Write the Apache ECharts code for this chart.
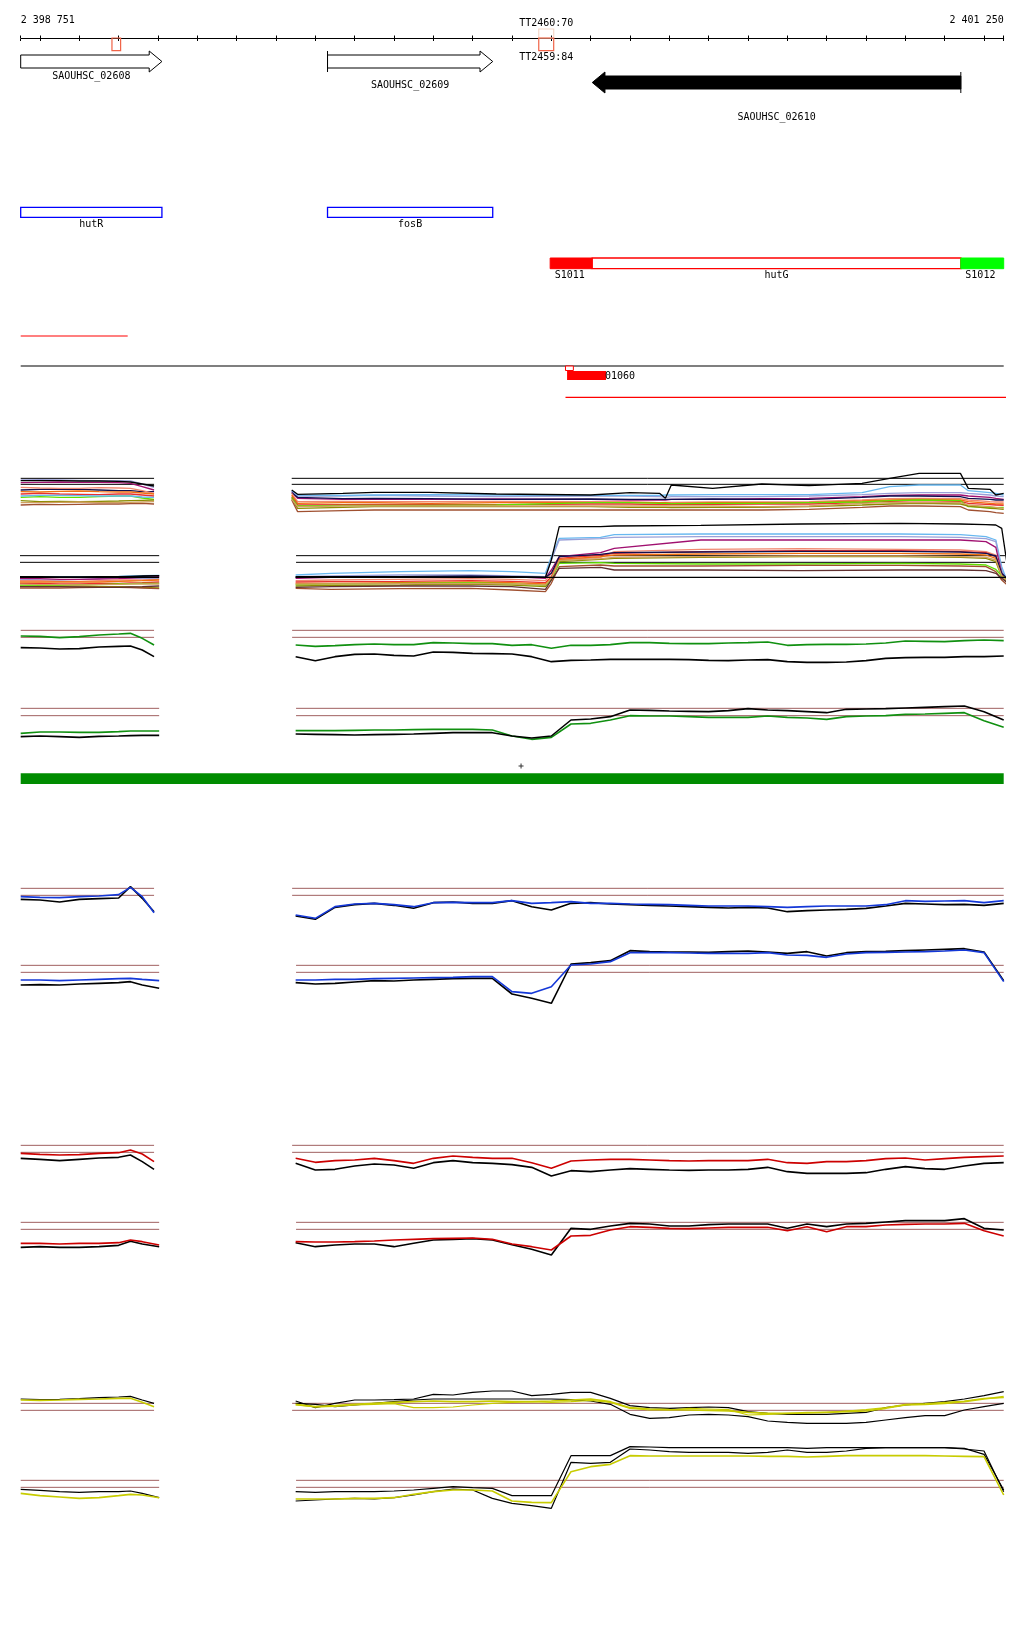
<!DOCTYPE html>
<html>
<head>
<meta charset="utf-8">
<script src="https://cdn.jsdelivr.net/npm/echarts@6/dist/echarts.min.js"></script>
<style>
  html, body { margin: 0; padding: 0; background: #fff; }
  #chart { width: 1024px; height: 1640px; }
</style>
</head>
<body>
<div id="chart"></div>
<script>
// view window (bp)
const X_MIN = 2398751;
const X_MAX = 2401250;
const TICKS = [2398751, 2398800, 2398900, 2399000, 2399100, 2399200, 2399300, 2399400, 2399500,
  2399600, 2399700, 2399800, 2399900, 2400000, 2400100, 2400200, 2400300, 2400400, 2400500,
  2400600, 2400700, 2400800, 2400900, 2401000, 2401100, 2401200, 2401250];

// genes
const GENE_NAMES = ['SAOUHSC_02608', 'SAOUHSC_02609', 'SAOUHSC_02610'];
const GENE_START = [2398751, 2399531, 2400204];
const GENE_END = [2399110, 2399951, 2401141];
const GENE_STRAND = ['+', '+', '-'];
const GENE_FILLED = [false, false, true];
const GENE_START_BAR = [false, true, true];

// terminators
const TERM_NAMES = ['', 'TT2460:70', 'TT2459:84'];
const TERM_START = [2398983, 2400068, 2400068];
const TERM_END = [2399005, 2400106, 2400106];
const TERM_SIDE = ['below', 'above', 'below'];

// annotated names
const OPERON_NAMES = ['hutR', 'fosB'];
const OPERON_START = [2398751, 2399531];
const OPERON_END = [2399110, 2399951];

// segments around hutG
const SEG_NAMES = ['S1011', 'hutG', 'S1012'];
const SEG_START = [2400097, 2400204, 2401141];
const SEG_END = [2400204, 2401141, 2401250];
const SEG_KIND = ['down', 'gene', 'up'];

// plain spans
const RED_SPAN_1 = [2398751, 2399023];
const BLACK_SPAN = [2398751, 2401250];
const RED_SPAN_2 = [2400136, 2401274];
const SMALL_BOX = [2400136, 2400156];
const SMALL_FILL = [2400140, 2400239];
const SMALL_LABEL = '01060';
const GREEN_SPAN = [2398751, 2401250];
const PLUS_POS = [2400023];

// line tracks: x positions
const LEFT_X_ODD = [2398751, 2398800, 2398850, 2398900, 2398950, 2399000, 2399030, 2399060, 2399090];
const LEFT_X_EVEN = [2398751, 2398800, 2398850, 2398900, 2398950, 2399000, 2399030, 2399060, 2399103];
const RIGHT_X = [2399450, 2399500, 2399550, 2399600, 2399650, 2399700, 2399750, 2399800, 2399850,
  2399900, 2399950, 2400000, 2400050, 2400100, 2400150, 2400200, 2400250, 2400300, 2400350,
  2400400, 2400450, 2400500, 2400550, 2400600, 2400650, 2400700, 2400750, 2400800, 2400850,
  2400900, 2400950, 2401000, 2401050, 2401100, 2401150, 2401200, 2401250];
const A_X_L = [2398751, 2398800, 2398850, 2398900, 2398950, 2399000, 2399030, 2399060, 2399090];
const A_X_R = [2399440, 2399455, 2399570, 2399650, 2399790, 2399960, 2400200, 2400300, 2400375, 2400390,
  2400405, 2400510, 2400635, 2400755, 2400890, 2400960, 2401035, 2401140, 2401160, 2401215, 2401230, 2401250];
const B_X_L = [2398730, 2398800, 2398850, 2398900, 2398950, 2399000, 2399030, 2399060, 2399103];
const B_X_R = [2399450, 2399540, 2399715, 2399895, 2400000, 2400085, 2400100, 2400120, 2400225, 2400260,
  2400480, 2400735, 2400985, 2401140, 2401205, 2401230, 2401245, 2401264];

// reference levels
const REF_A = [55, 73];
const REF_B = [287, 307];
const REF_C = [31, 52];
const REF_D = [265, 287];
const REF_E = [55, 76];
const REF_F = [286, 307];
const REF_G = [46, 67];
const REF_H = [277, 298];
const REF_I = [85, 106];
const REF_J = [316, 337];

// track A (many samples)
const A_COLORS = ['#9aa0d8', '#a01070', '#101050', '#f08870', '#f07010', '#e83030', '#60e000', '#8c8c00', '#a05030', '#68b8f0', '#d0a060', '#000000'];
const A_LEFT = [
  [60, 59, 60, 61, 62, 62, 63, 72, 82],
  [68, 67, 66, 67, 67, 68, 70, 80, 90],
  [90, 88, 87, 88, 90, 92, 92, 95, 95],
  [82, 84, 85, 85, 83, 84, 85, 92, 100],
  [95, 96, 94, 93, 95, 96, 96, 99, 102],
  [102, 100, 102, 103, 104, 102, 102, 105, 108],
  [112, 110, 112, 112, 110, 108, 108, 114, 118],
  [122, 125, 124, 125, 124, 123, 122, 121, 120],
  [135, 133, 134, 133, 132, 132, 131, 130, 132],
  [108, 106, 106, 107, 108, 108, 108, 111, 112],
  [128, 128, 127, 126, 128, 128, 127, 126, 125],
  [62, 62, 62, 63, 63, 64, 66, 72, 78]
];
const A_RIGHT = [
  [92, 108, 108, 106, 108, 110, 108, 108, 110, 112, 110, 110, 110, 108, 104, 100, 98, 98, 100, 105, 108, 110],
  [95, 115, 118, 118, 118, 117, 118, 120, 120, 120, 118, 118, 116, 115, 110, 106, 105, 105, 108, 112, 115, 118],
  [98, 112, 116, 115, 116, 118, 117, 118, 118, 118, 118, 117, 118, 118, 112, 108, 108, 110, 115, 118, 120, 120],
  [100, 125, 124, 125, 125, 124, 125, 126, 128, 127, 127, 126, 126, 125, 120, 116, 115, 116, 120, 125, 126, 126],
  [105, 130, 128, 128, 130, 128, 128, 127, 128, 128, 130, 128, 128, 128, 123, 120, 118, 120, 125, 130, 132, 132],
  [110, 135, 134, 133, 133, 134, 132, 132, 134, 134, 134, 133, 132, 132, 128, 124, 122, 124, 130, 134, 135, 136],
  [112, 138, 136, 136, 136, 135, 128, 128, 130, 130, 131, 130, 130, 128, 126, 122, 120, 122, 140, 142, 143, 142],
  [115, 145, 142, 140, 140, 140, 140, 142, 142, 142, 143, 142, 142, 140, 135, 132, 130, 132, 138, 145, 146, 148],
  [120, 155, 152, 150, 150, 150, 150, 150, 150, 150, 150, 150, 150, 148, 142, 138, 138, 140, 150, 155, 158, 160],
  [92, 105, 106, 105, 104, 105, 106, 106, 106, 105, 105, 104, 104, 104, 98, 80, 75, 75, 92, 98, 100, 105],
  [118, 140, 138, 138, 138, 138, 138, 138, 138, 138, 138, 138, 140, 138, 130, 128, 128, 128, 135, 140, 142, 145],
  [90, 103, 100, 97, 97, 102, 105, 98, 100, 115, 75, 85, 72, 77, 70, 55, 40, 40, 85, 88, 105, 100]
];

// track B (many samples)
const B_COLORS = ['#68b8f0', '#9aa0d8', '#a01070', '#f08870', '#e83030', '#f07010', '#101050', '#8c8c00', '#60e000', '#a05030', '#d0a060', '#603030', '#000000', '#000000'];
const B_LEFT = [
  [352, 350, 350, 350, 350, 349, 348, 347, 346],
  [358, 360, 360, 358, 356, 354, 354, 355, 356],
  [355, 356, 358, 358, 357, 356, 354, 352, 350],
  [362, 362, 364, 364, 362, 360, 360, 360, 358],
  [370, 370, 372, 372, 370, 370, 369, 368, 366],
  [366, 366, 366, 366, 366, 364, 363, 362, 360],
  [352, 352, 352, 352, 352, 351, 350, 349, 347],
  [378, 380, 378, 378, 380, 380, 381, 382, 384],
  [375, 376, 376, 374, 374, 372, 371, 370, 370],
  [384, 384, 384, 383, 382, 382, 383, 384, 386],
  [372, 374, 374, 375, 374, 373, 372, 372, 372],
  [380, 380, 380, 381, 382, 382, 381, 380, 378],
  [352, 352, 352, 352, 352, 352, 352, 352, 352],
  [350, 350, 351, 351, 350, 350, 349, 348, 347]
];
const B_RIGHT = [
  [345, 340, 335, 332, 335, 340, 290, 235, 232, 224, 222, 222, 222, 224, 230, 240, 320, 380],
  [350, 348, 345, 345, 348, 350, 300, 240, 236, 232, 230, 230, 230, 232, 236, 245, 330, 385],
  [355, 352, 350, 350, 350, 355, 330, 290, 278, 265, 240, 240, 240, 240, 245, 262, 340, 370],
  [362, 360, 358, 356, 358, 362, 340, 300, 292, 275, 268, 266, 268, 270, 275, 285, 340, 365],
  [366, 365, 364, 362, 364, 368, 350, 295, 285, 280, 275, 272, 272, 275, 278, 290, 345, 375],
  [370, 370, 368, 366, 368, 372, 355, 298, 290, 285, 282, 280, 280, 282, 285, 295, 350, 372],
  [352, 352, 350, 348, 350, 352, 340, 290, 283, 278, 276, 274, 274, 276, 280, 288, 340, 362],
  [378, 376, 375, 372, 375, 380, 360, 305, 298, 295, 292, 290, 290, 292, 295, 305, 350, 375],
  [374, 372, 370, 368, 372, 376, 358, 310, 308, 310, 312, 312, 310, 312, 315, 328, 348, 360],
  [385, 388, 386, 385, 390, 395, 370, 320, 315, 318, 318, 316, 316, 318, 320, 335, 360, 380],
  [372, 372, 371, 370, 372, 375, 356, 302, 296, 292, 290, 288, 288, 290, 292, 300, 348, 370],
  [382, 380, 378, 378, 380, 388, 360, 325, 322, 330, 330, 332, 330, 330, 332, 340, 355, 372],
  [352, 352, 352, 352, 352, 352, 352, 352, 352, 352, 352, 352, 352, 352, 352, 352, 352, 352],
  [350, 350, 350, 352, 350, 352, 300, 200, 200, 198, 196, 192, 190, 192, 194, 195, 205, 355]
];

// track C / D (green)
const C_GREEN_L = [48, 49, 53, 50, 45, 42, 40, 55, 75];
const C_BLACK_L = [83, 84, 87, 86, 81, 79, 78, 90, 110];
const C_GREEN_R = [75, 79, 77, 74, 72, 74, 74, 68, 69, 71, 71, 76, 74, 85, 76, 76, 74, 68, 68, 70, 71, 71, 69, 68, 66, 76, 74, 73, 73, 72, 69, 63, 64, 65, 62, 60, 62];
const C_BLACK_R = [110, 122, 110, 103, 102, 106, 108, 96, 97, 100, 101, 102, 110, 125, 121, 120, 118, 118, 118, 118, 119, 121, 122, 120, 119, 125, 127, 127, 126, 122, 115, 113, 112, 112, 110, 110, 108];
const D_GREEN_L = [340, 336, 336, 337, 337, 335, 333, 333, 333];
const D_BLACK_L = [350, 348, 350, 352, 349, 348, 347, 346, 346];
const D_GREEN_R = [332, 332, 332, 331, 330, 330, 329, 328, 328, 328, 330, 348, 358, 352, 312, 310, 300, 287, 288, 288, 290, 292, 292, 292, 288, 292, 294, 298, 290, 288, 287, 283, 282, 280, 278, 302, 322];
const D_BLACK_R = [342, 343, 344, 345, 344, 343, 342, 340, 338, 338, 338, 348, 354, 348, 300, 297, 290, 270, 271, 273, 274, 275, 272, 266, 270, 272, 275, 278, 268, 267, 266, 264, 262, 260, 258, 275, 300];

// track E / F (blue)
const E_BLUE_L = [80, 82, 83, 80, 78, 74, 52, 80, 128];
const E_BLACK_L = [88, 90, 96, 88, 86, 84, 50, 85, 125];
const E_BLUE_R = [135, 145, 110, 102, 100, 104, 110, 98, 97, 98, 98, 92, 100, 98, 95, 100, 100, 102, 103, 104, 106, 108, 108, 108, 110, 112, 110, 108, 108, 108, 104, 92, 94, 93, 92, 98, 92];
const E_BLACK_R = [138, 148, 112, 104, 100, 106, 115, 98, 96, 100, 100, 92, 110, 120, 100, 98, 102, 104, 106, 108, 110, 112, 114, 112, 114, 125, 122, 120, 118, 115, 108, 100, 102, 104, 103, 106, 100];
const F_BLUE_L = [330, 330, 332, 330, 328, 326, 325, 328, 332];
const F_BLACK_L = [345, 344, 345, 342, 340, 338, 335, 345, 355];
const F_BLUE_R = [330, 330, 328, 328, 326, 325, 324, 323, 322, 320, 320, 365, 370, 350, 285, 282, 275, 248, 248, 248, 249, 250, 250, 250, 248, 255, 256, 262, 252, 248, 247, 246, 245, 243, 240, 248, 335];
const F_BLACK_R = [338, 342, 340, 336, 332, 333, 330, 328, 326, 325, 325, 372, 385, 400, 282, 278, 272, 242, 245, 246, 246, 247, 245, 243, 246, 250, 245, 258, 248, 245, 244, 242, 240, 238, 236, 246, 332];

// track G / H (red)
const G_RED_L = [70, 73, 75, 74, 70, 68, 60, 72, 95];
const G_BLACK_L = [85, 88, 92, 88, 84, 82, 75, 95, 118];
const G_RED_R = [85, 97, 92, 90, 85, 92, 100, 85, 78, 82, 85, 85, 98, 115, 93, 90, 88, 88, 90, 92, 93, 92, 92, 92, 88, 98, 100, 95, 95, 92, 86, 84, 90, 86, 82, 80, 78];
const G_BLACK_R = [100, 120, 118, 108, 102, 105, 115, 98, 92, 98, 100, 104, 112, 138, 122, 125, 120, 116, 118, 120, 121, 120, 120, 118, 112, 125, 130, 130, 130, 128, 118, 110, 116, 118, 108, 100, 98];
const H_RED_L = [340, 340, 342, 340, 340, 338, 330, 335, 345];
const H_BLACK_L = [352, 350, 352, 352, 350, 346, 334, 342, 350];
const H_RED_R = [335, 336, 336, 335, 333, 330, 328, 326, 325, 324, 328, 342, 350, 360, 318, 316, 300, 290, 292, 295, 296, 294, 292, 292, 292, 302, 290, 305, 290, 290, 285, 283, 282, 282, 280, 302, 318];
const H_BLACK_R = [338, 350, 345, 342, 342, 350, 340, 330, 328, 326, 330, 344, 358, 375, 295, 298, 288, 280, 282, 288, 288, 284, 282, 282, 282, 295, 282, 290, 282, 280, 276, 272, 272, 272, 266, 295, 300];

// track I / J (yellow)
const I_YELLOW_L = [75, 76, 75, 73, 72, 70, 70, 82, 95];
const I_BLACK_L = [72, 74, 73, 71, 68, 66, 64, 75, 85];
const I_YELLOW_R = [88, 95, 92, 88, 85, 82, 80, 78, 80, 80, 78, 80, 80, 78, 75, 72, 80, 98, 102, 104, 105, 106, 108, 112, 115, 115, 114, 112, 110, 108, 100, 90, 88, 85, 80, 72, 65];
const I_YELLOW2_R = [90, 96, 94, 90, 88, 86, 98, 98, 96, 90, 85, 82, 80, 82, 80, 76, 82, 100, 105, 105, 100, 102, 104, 120, 118, 115, 112, 112, 108, 104, 98, 88, 86, 82, 78, 70, 68];
const I_BLACK_R = [78, 98, 85, 75, 75, 74, 72, 58, 60, 52, 48, 48, 62, 58, 52, 52, 70, 92, 98, 100, 98, 96, 98, 110, 115, 118, 118, 118, 115, 112, 98, 90, 85, 80, 72, 62, 50];
const I_BLACK2_R = [85, 88, 95, 90, 85, 80, 75, 72, 72, 72, 72, 72, 72, 72, 74, 78, 88, 118, 130, 128, 120, 118, 120, 125, 138, 142, 145, 145, 145, 142, 135, 128, 122, 122, 105, 95, 85];
const J_YELLOW_L = [355, 362, 366, 370, 368, 362, 358, 360, 368];
const J_BLACK_L = [343, 346, 350, 352, 350, 350, 348, 355, 368];
const J_YELLOW_R = [372, 372, 372, 370, 370, 368, 358, 350, 345, 345, 348, 378, 382, 383, 290, 275, 268, 242, 243, 243, 243, 243, 243, 243, 244, 244, 246, 244, 242, 242, 242, 242, 242, 243, 244, 245, 360];
const J_BLACK_R = [350, 352, 350, 350, 350, 348, 345, 340, 335, 338, 340, 362, 362, 362, 242, 242, 242, 215, 216, 218, 218, 218, 218, 218, 218, 218, 220, 218, 218, 218, 218, 218, 218, 218, 222, 228, 350];
const J_BLACK2_R = [378, 375, 372, 370, 372, 368, 360, 350, 342, 345, 370, 385, 392, 400, 262, 265, 262, 222, 225, 230, 232, 232, 232, 235, 232, 225, 232, 232, 228, 220, 218, 218, 218, 218, 220, 238, 345];

// ---------- layout ----------
const FONT = '10px "DejaVu Sans Mono", monospace';
const REF_COLOR = '#a06060';
const ROW = {
  gene: [61.5, 61.5, 82.5], geneLabel: [76, 85, 117],
  termAbove: [29, 38], termBelow: [38, 50.7], termLabelAbove: 23, termLabelBelow: 57,
  operon: [207.3, 217.3], operonLabel: 224.5,
  seg: [258, 268.7], segLabel: 275.5,
  redLine1: 336, blackLine: 366, redLine2: 397.3,
  smallBox: [366, 370.5], smallFill: [371, 380], smallLabel: 376
};
const SPAN_ODD = [[2398751, 2399090], [2399441, 2401250]];
const SPAN_EVEN = [[2398751, 2399103], [2399451, 2401250]];
const SPAN_A = [[2398751, 2399090], [2399440, 2401250]];
const SPAN_B = [[2398730, 2399103], [2399451, 2401264]];

const GRIDS = [
  { top: 38, bottom: 1601 },   // ruler
  { top: 0, height: 410 },     // annotations
  { top: 460, height: 150 },   // A, B
  { top: 620, height: 170 },   // C, D, green bar
  { top: 870, height: 150 },   // E, F
  { top: 1130, height: 150 },  // G, H
  { top: 1375, height: 150 }   // I, J
];
const Y_MAX = [1, 410, 450, 510, 450, 450, 450];

const spaced = v => String(v).replace(/\B(?=(\d{3})+(?!\d))/g, ' ');

const xAxes = [
  {
    type: 'value', gridIndex: 0, position: 'top', min: X_MIN, max: X_MAX,
    axisLine: { show: true, lineStyle: { color: '#000', width: 1 } },
    axisTick: { show: true, customValues: TICKS, length: 2.5, lineStyle: { color: '#000' } },
    axisLabel: {
      show: true, customValues: [X_MIN, X_MAX], formatter: spaced, margin: 13,
      color: '#000', fontFamily: '"DejaVu Sans Mono", monospace', fontSize: 10,
      alignMinLabel: 'left', alignMaxLabel: 'right'
    },
    splitLine: { show: false }
  },
  {
    type: 'value', gridIndex: 0, position: 'bottom', min: X_MIN, max: X_MAX,
    axisLine: { show: false },
    axisTick: { show: true, customValues: TICKS, length: 2, lineStyle: { color: '#000' } },
    axisLabel: { show: false }, splitLine: { show: false }
  }
];
for (let g = 1; g < GRIDS.length; g++) {
  xAxes.push({ type: 'value', gridIndex: g, min: X_MIN, max: X_MAX, show: false });
}
const yAxes = GRIDS.map((gr, g) => ({
  type: 'value', gridIndex: g, min: 0, max: Y_MAX[g], inverse: true, show: false
}));

function pairs(xs, ys) { return xs.map((x, i) => [x, ys[i]]); }
function line(g, xs, ys, color, width, z) {
  return {
    type: 'line', xAxisIndex: g + 1, yAxisIndex: g, data: pairs(xs, ys),
    symbol: 'none', clip: false, silent: true, animation: false, z: z || 3,
    lineStyle: { color: color, width: width || 1 }
  };
}
function refs(g, levels, spans, color) {
  const out = [];
  levels.forEach(y => spans.forEach(s => out.push(line(g, s, [y, y], color, 1, 2))));
  return out;
}
function track(g, xl, yl, xr, yr, color, width) {
  return [line(g, xl, yl, color, width), line(g, xr, yr, color, width)];
}

const series = [];

// ---- annotation grid (index 1) ----
const txt = (x, y, text, align) => ({
  type: 'text', x: x, y: y,
  style: { text: text, fill: '#000', font: FONT, align: align || 'center', verticalAlign: 'middle' }
});

series.push({
  type: 'custom', xAxisIndex: 2, yAxisIndex: 1, clip: false, silent: true, animation: false, z: 5,
  data: GENE_NAMES.map((n, i) => [GENE_START[i], GENE_END[i], ROW.gene[i], ROW.geneLabel[i], i]),
  encode: { x: [0, 1], y: 2 },
  renderItem: (params, api) => {
    const i = api.value(4);
    const p0 = api.coord([api.value(0), api.value(2)]);
    const x0 = p0[0], yc = p0[1];
    const x1 = api.coord([api.value(1), api.value(2)])[0];
    const ly = api.coord([api.value(0), api.value(3)])[1];
    const bh = 6.5, hh = 10.5, hl = 12.7;
    let pts, bx;
    if (GENE_STRAND[i] === '+') {
      pts = [[x0, yc - bh], [x1 - hl, yc - bh], [x1 - hl, yc - hh], [x1, yc], [x1 - hl, yc + hh], [x1 - hl, yc + bh], [x0, yc + bh]];
      bx = x0;
    } else {
      pts = [[x1, yc - bh], [x0 + hl, yc - bh], [x0 + hl, yc - hh], [x0, yc], [x0 + hl, yc + hh], [x0 + hl, yc + bh], [x1, yc + bh]];
      bx = x1;
    }
    const children = [{
      type: 'polygon', shape: { points: pts },
      style: { fill: GENE_FILLED[i] ? '#000' : '#fff', stroke: '#000', lineWidth: 1 }
    }];
    if (GENE_START_BAR[i]) {
      children.push({ type: 'line', shape: { x1: bx, y1: yc - hh, x2: bx, y2: yc + hh }, style: { stroke: '#000', lineWidth: 1 } });
    }
    children.push(txt((x0 + x1) / 2, ly, GENE_NAMES[i]));
    return { type: 'group', children: children };
  }
});

series.push({
  type: 'custom', xAxisIndex: 2, yAxisIndex: 1, clip: false, silent: true, animation: false, z: 6,
  data: TERM_NAMES.map((n, i) => [TERM_START[i], TERM_END[i], i]),
  encode: { x: [0, 1] },
  renderItem: (params, api) => {
    const i = api.value(2);
    const above = TERM_SIDE[i] === 'above';
    const r = above ? ROW.termAbove : ROW.termBelow;
    const a = api.coord([api.value(0), r[0]]);
    const b = api.coord([api.value(1), r[1]]);
    const children = [{
      type: 'rect', shape: { x: a[0], y: a[1], width: b[0] - a[0], height: b[1] - a[1] },
      style: { fill: 'none', stroke: above ? '#f5d8c8' : '#f06448', lineWidth: 1.2 }
    }];
    if (TERM_NAMES[i]) {
      const ly = api.coord([0, above ? ROW.termLabelAbove : ROW.termLabelBelow])[1];
      children.push(txt((a[0] + b[0]) / 2, ly, TERM_NAMES[i]));
    }
    return { type: 'group', children: children };
  }
});

series.push({
  type: 'custom', xAxisIndex: 2, yAxisIndex: 1, clip: false, silent: true, animation: false, z: 5,
  data: OPERON_NAMES.map((n, i) => [OPERON_START[i], OPERON_END[i], i]),
  encode: { x: [0, 1] },
  renderItem: (params, api) => {
    const i = api.value(2);
    const a = api.coord([api.value(0), ROW.operon[0]]);
    const b = api.coord([api.value(1), ROW.operon[1]]);
    const ly = api.coord([0, ROW.operonLabel])[1];
    return {
      type: 'group', children: [
        { type: 'rect', shape: { x: a[0], y: a[1], width: b[0] - a[0], height: b[1] - a[1] },
          style: { fill: '#fff', stroke: '#0000ff', lineWidth: 1.3 } },
        txt((a[0] + b[0]) / 2, ly, OPERON_NAMES[i])
      ]
    };
  }
});

series.push({
  type: 'custom', xAxisIndex: 2, yAxisIndex: 1, clip: false, silent: true, animation: false, z: 5,
  data: SEG_NAMES.map((n, i) => [SEG_START[i], SEG_END[i], i]),
  encode: { x: [0, 1] },
  renderItem: (params, api) => {
    const i = api.value(2);
    const a = api.coord([api.value(0), ROW.seg[0]]);
    const b = api.coord([api.value(1), ROW.seg[1]]);
    const ly = api.coord([0, ROW.segLabel])[1];
    const kind = SEG_KIND[i];
    const style = kind === 'down' ? { fill: '#ff0000', stroke: '#ff0000', lineWidth: 1 }
      : kind === 'up' ? { fill: '#00ff00', stroke: '#00ff00', lineWidth: 1 }
      : { fill: '#fff', stroke: '#ff0000', lineWidth: 1.3 };
    const label = kind === 'gene' ? txt((a[0] + b[0]) / 2, ly, SEG_NAMES[i])
      : txt(a[0] + 4.5, ly, SEG_NAMES[i], 'left');
    return {
      type: 'group', children: [
        { type: 'rect', shape: { x: a[0], y: a[1], width: b[0] - a[0], height: b[1] - a[1] }, style: style },
        label
      ]
    };
  }
});

series.push({
  type: 'custom', xAxisIndex: 2, yAxisIndex: 1, clip: false, silent: true, animation: false, z: 6,
  data: [[SMALL_BOX[0], SMALL_BOX[1], SMALL_FILL[0], SMALL_FILL[1]]],
  encode: { x: [0, 3] },
  renderItem: (params, api) => {
    const a = api.coord([api.value(0), ROW.smallBox[0]]);
    const b = api.coord([api.value(1), ROW.smallBox[1]]);
    const c = api.coord([api.value(2), ROW.smallFill[0]]);
    const d = api.coord([api.value(3), ROW.smallFill[1]]);
    const ly = api.coord([0, ROW.smallLabel])[1];
    return {
      type: 'group', children: [
        { type: 'rect', shape: { x: c[0], y: c[1], width: d[0] - c[0], height: d[1] - c[1] }, style: { fill: '#ff0000' } },
        { type: 'rect', shape: { x: a[0], y: a[1], width: b[0] - a[0], height: b[1] - a[1] },
          style: { fill: '#fff', stroke: '#ff0000', lineWidth: 1 } },
        txt(d[0] - 1, ly, SMALL_LABEL, 'left')
      ]
    };
  }
});

series.push(line(1, RED_SPAN_1, [ROW.redLine1, ROW.redLine1], '#ff0000', 1.2));
series.push(line(1, BLACK_SPAN, [ROW.blackLine, ROW.blackLine], '#000000', 1.2));
series.push(line(1, RED_SPAN_2, [ROW.redLine2, ROW.redLine2], '#ff0000', 1.2));

// ---- track A / B ----
series.push(...refs(2, REF_A, SPAN_A, '#000'));
series.push(...refs(2, REF_B, SPAN_B, '#000'));
A_LEFT.forEach((ys, k) => series.push(...track(2, A_X_L, ys, A_X_R, A_RIGHT[k], A_COLORS[k], 1.3)));
B_LEFT.forEach((ys, k) => series.push(...track(2, B_X_L, ys, B_X_R, B_RIGHT[k], B_COLORS[k], 1.3)));

// ---- track C / D ----
series.push(...refs(3, REF_C, SPAN_ODD, REF_COLOR));
series.push(...refs(3, REF_D, SPAN_EVEN, REF_COLOR));
series.push(...track(3, LEFT_X_ODD, C_GREEN_L, RIGHT_X, C_GREEN_R, '#109010', 1.6));
series.push(...track(3, LEFT_X_ODD, C_BLACK_L, RIGHT_X, C_BLACK_R, '#000', 1.6));
series.push(...track(3, LEFT_X_EVEN, D_GREEN_L, RIGHT_X, D_GREEN_R, '#109010', 1.6));
series.push(...track(3, LEFT_X_EVEN, D_BLACK_L, RIGHT_X, D_BLACK_R, '#000', 1.6));
series.push(Object.assign(line(3, GREEN_SPAN, [476, 476], '#008c00', 10.7), {}));
series.push({
  type: 'scatter', xAxisIndex: 4, yAxisIndex: 3, data: PLUS_POS.map(x => [x, 438]),
  symbol: 'path://M2,0H3V2H5V3H3V5H2V3H0V2H2Z', symbolSize: 5,
  itemStyle: { color: '#000' }, silent: true, animation: false, z: 5
});

// ---- track E / F ----
series.push(...refs(4, REF_E, SPAN_ODD, REF_COLOR));
series.push(...refs(4, REF_F, SPAN_EVEN, REF_COLOR));
series.push(...track(4, LEFT_X_ODD, E_BLACK_L, RIGHT_X, E_BLACK_R, '#000', 1.6));
series.push(...track(4, LEFT_X_ODD, E_BLUE_L, RIGHT_X, E_BLUE_R, '#1438d8', 1.6));
series.push(...track(4, LEFT_X_EVEN, F_BLACK_L, RIGHT_X, F_BLACK_R, '#000', 1.6));
series.push(...track(4, LEFT_X_EVEN, F_BLUE_L, RIGHT_X, F_BLUE_R, '#1438d8', 1.6));

// ---- track G / H ----
series.push(...refs(5, REF_G, SPAN_ODD, REF_COLOR));
series.push(...refs(5, REF_H, SPAN_EVEN, REF_COLOR));
series.push(...track(5, LEFT_X_ODD, G_BLACK_L, RIGHT_X, G_BLACK_R, '#000', 1.6));
series.push(...track(5, LEFT_X_ODD, G_RED_L, RIGHT_X, G_RED_R, '#cc0000', 1.6));
series.push(...track(5, LEFT_X_EVEN, H_BLACK_L, RIGHT_X, H_BLACK_R, '#000', 1.6));
series.push(...track(5, LEFT_X_EVEN, H_RED_L, RIGHT_X, H_RED_R, '#cc0000', 1.6));

// ---- track I / J ----
series.push(...refs(6, REF_I, SPAN_ODD, REF_COLOR));
series.push(...refs(6, REF_J, SPAN_EVEN, REF_COLOR));
series.push(...track(6, LEFT_X_ODD, I_BLACK_L, RIGHT_X, I_BLACK_R, '#000', 1.2));
series.push(line(6, RIGHT_X, I_BLACK2_R, '#000', 1.2));
series.push(...track(6, LEFT_X_ODD, I_YELLOW_L, RIGHT_X, I_YELLOW_R, '#c8cc00', 1.6));
series.push(line(6, RIGHT_X, I_YELLOW2_R, '#c8cc00', 1.2));
series.push(...track(6, LEFT_X_EVEN, J_BLACK_L, RIGHT_X, J_BLACK_R, '#000', 1.2));
series.push(line(6, RIGHT_X, J_BLACK2_R, '#000', 1.2));
series.push(...track(6, LEFT_X_EVEN, J_YELLOW_L, RIGHT_X, J_YELLOW_R, '#c8cc00', 1.6));

const chart = echarts.init(document.getElementById('chart'));
chart.setOption({
  animation: false,
  backgroundColor: '#fff',
  grid: GRIDS.map(g => Object.assign({ left: 20.7, right: 20.3, containLabel: false, show: false }, g)),
  xAxis: xAxes,
  yAxis: yAxes,
  series: series
});
</script>
</body>
</html>
